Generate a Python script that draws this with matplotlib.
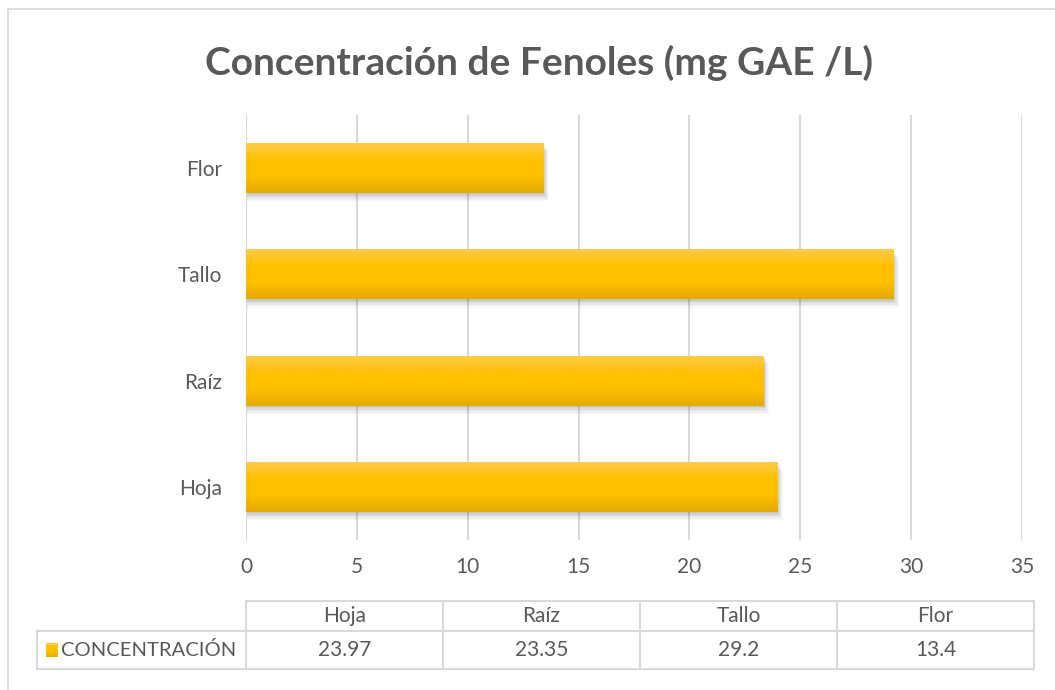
import numpy as np
import matplotlib.pyplot as plt
import matplotlib as mpl
from matplotlib.patches import Rectangle
from matplotlib.colors import LinearSegmentedColormap

# ---------------- data ----------------
categories = ["Hoja", "Raíz", "Tallo", "Flor"]
values = [23.97, 23.35, 29.2, 13.4]
series_name = "CONCENTRACIÓN"
title = "Concentración de Fenoles (mg GAE /L)"
x_ticks = [0, 5, 10, 15, 20, 25, 30, 35]

# ---------------- style ----------------
TEXT = "#595959"
GRID = "#d9d9d9"
FS = 15
mpl.rcParams.update({
    "font.family": ["Lato", "DejaVu Sans"],
    "text.color": TEXT,
    "xtick.color": TEXT,
    "ytick.color": TEXT,
})

W, H = 1055, 690
fig = plt.figure(figsize=(W / 100, H / 100), dpi=100)
fig.patch.set_facecolor("white")

# outer chart border (right/bottom run off the picture)
fig.patches.append(Rectangle((8 / W, -0.05), 1.1, 1 - 9 / H + 0.05,
                             transform=fig.transFigure, fill=False,
                             edgecolor=GRID, lw=1.3))

fig.text(539 / W, 1 - 63 / H, title, ha="center", va="center",
         fontsize=28, fontweight="bold", color=TEXT)

# ---------------- bar axes ----------------
ax = fig.add_axes([246 / W, 1 - 540 / H, 776 / W, 425 / H])
ypos = np.arange(len(categories))
bar_h = 0.47

bars = ax.barh(ypos, values, height=bar_h, color="#FFC000", zorder=3)

gold = LinearSegmentedColormap.from_list(
    "gold", ["#E3AA00", "#FFC000", "#FFC000", "#FFCB4A"])
grad = np.linspace(0, 1, 256).reshape(-1, 1)
for b in bars:
    x0, y0 = b.get_x(), b.get_y()
    w, h = b.get_width(), b.get_height()
    # soft shadow
    for k, a in zip(range(6, 0, -1), [0.05, 0.06, 0.07, 0.08, 0.1, 0.12]):
        dx = 0.04 * k
        dy = 0.013 * k
        ax.add_patch(Rectangle((x0 + 0.05, y0 - dy), w + dx - 0.05, h,
                               facecolor="#404040", edgecolor="none",
                               alpha=a * 0.7, zorder=2))
    ax.imshow(grad, cmap=gold, aspect="auto", origin="lower",
              extent=(x0, x0 + w, y0, y0 + h), zorder=4)
    b.set_visible(False)

ax.set_xlim(0, 35)
ax.set_ylim(-0.5, len(categories) - 0.5)
ax.set_xticks(x_ticks)
ax.set_yticks(ypos)
ax.set_yticklabels(categories)
ax.tick_params(axis="both", length=0, labelsize=FS)
ax.tick_params(axis="y", pad=17)
ax.tick_params(axis="x", pad=12)
ax.grid(axis="x", color=GRID, lw=1.5, zorder=0)
for s in ax.spines.values():
    s.set_visible(False)
ax.axvline(0, color=GRID, lw=1.5, zorder=1)

# ---------------- data table ----------------
tx0, tx1 = 37, 1034
ty0, ty1 = 601, 669
tab = fig.add_axes([tx0 / W, 1 - ty1 / H, (tx1 - tx0) / W, (ty1 - ty0) / H])
tab.axis("off")

lab_w = (246 - tx0) / (tx1 - tx0)
col_w = (1 - lab_w) / len(categories)
row_split = 38 / (ty1 - ty0)
lk = dict(color=GRID, lw=1.5, clip_on=False)

tab.plot([lab_w, 1], [1, 1], **lk)
tab.plot([0, 1], [row_split, row_split], **lk)
tab.plot([0, 1], [0, 0], **lk)
tab.plot([0, 0], [0, row_split], **lk)
for i in range(len(categories) + 1):
    xx = lab_w + i * col_w
    tab.plot([xx, xx], [0, 1], **lk)

for i, (c, v) in enumerate(zip(categories, values)):
    xc = lab_w + (i + 0.5) * col_w
    tab.text(xc, (1 + row_split) / 2, c, ha="center", va="center",
             fontsize=FS)
    tab.text(xc, row_split / 2, f"{v:g}", ha="center", va="center",
             fontsize=FS)

sw = 12 / (tx1 - tx0)
sh = 14 / (ty1 - ty0)
tab.imshow(grad, cmap=gold, aspect="auto", origin="lower",
           extent=(9 / (tx1 - tx0), 9 / (tx1 - tx0) + sw,
                   row_split / 2 - sh / 2, row_split / 2 + sh / 2))
tab.set_xlim(0, 1)
tab.set_ylim(0, 1)
tab.text(24 / (tx1 - tx0), row_split / 2, series_name, ha="left",
         va="center", fontsize=14.6)

fig.savefig("out.png", dpi=100)
